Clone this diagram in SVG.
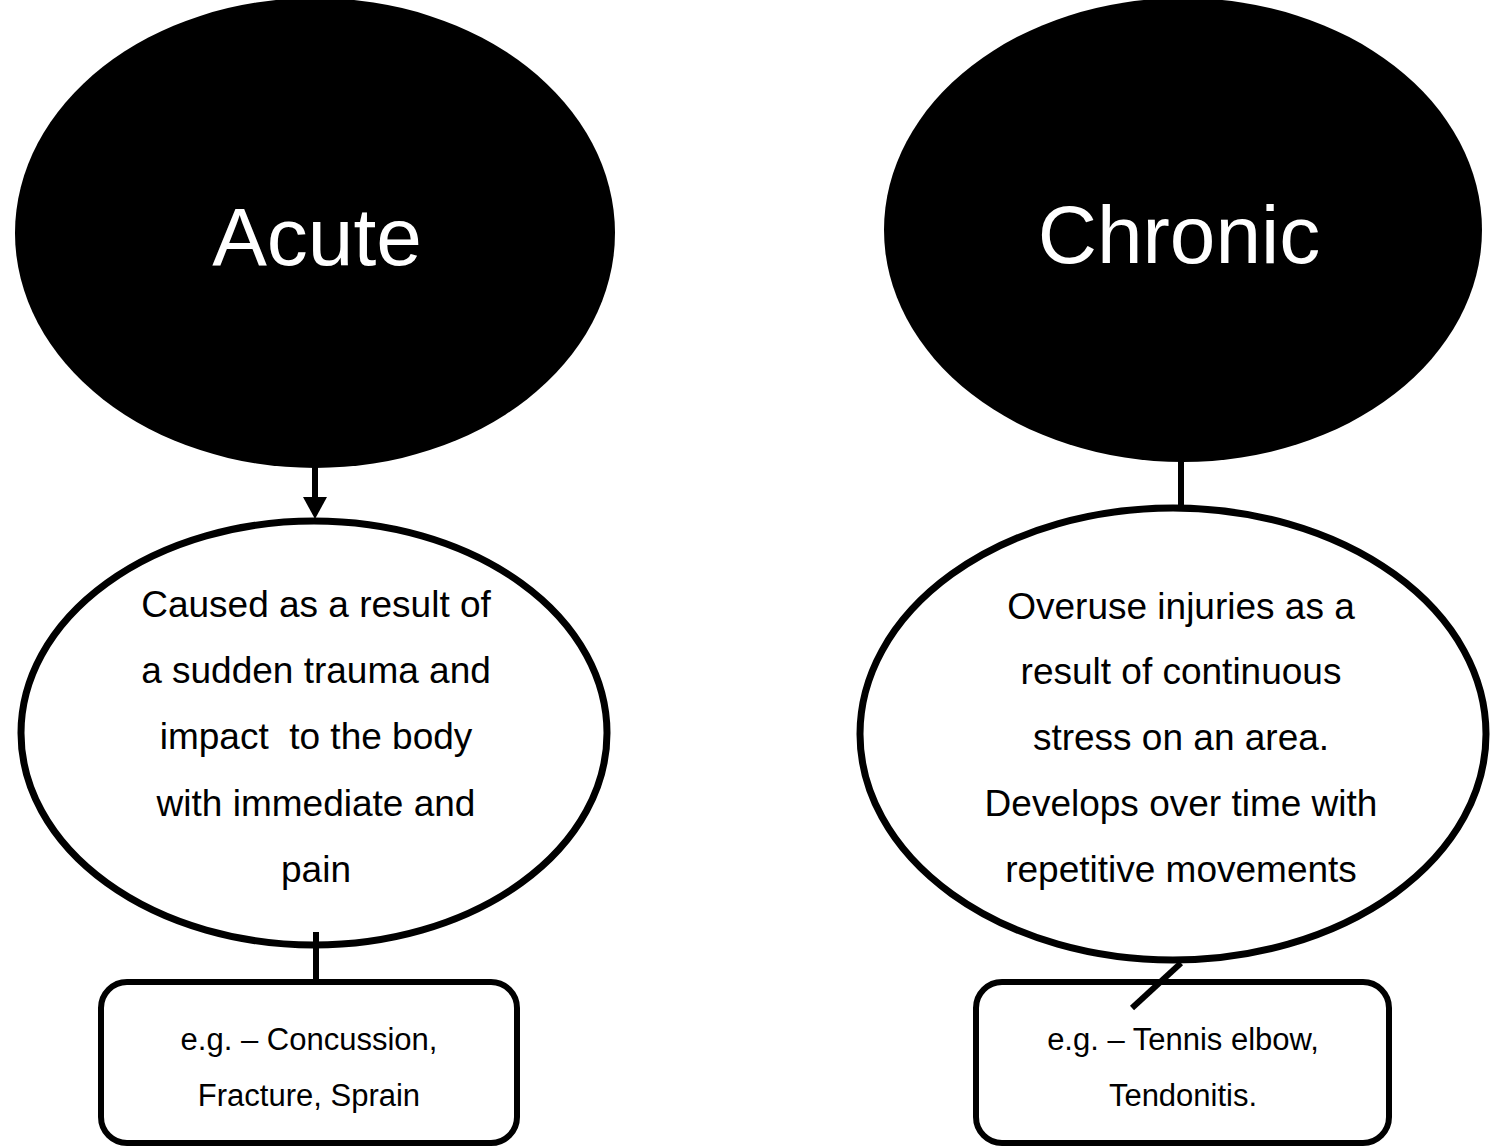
<svg xmlns="http://www.w3.org/2000/svg" width="1491" height="1147" viewBox="0 0 1491 1147">
<style>
.head{fill:#000}
.headtxt{fill:#fff;font-family:"Liberation Sans",Arial,sans-serif;font-size:82px;text-anchor:middle}
.bubble{fill:#fff;stroke:#000;stroke-width:7}
.box{fill:#fff;stroke:#000;stroke-width:6}
.txt{fill:#000;font-family:"Liberation Sans",Arial,sans-serif;font-size:37px;text-anchor:middle}
.small{fill:#000;font-family:"Liberation Sans",Arial,sans-serif;font-size:31px;text-anchor:middle}
.conn{stroke:#000;stroke-width:6;fill:none}
</style>
<rect width="1491" height="1147" fill="#fff"/>
<g id="acute">
<ellipse class="head" cx="315" cy="233" rx="300" ry="235"/>
<text class="headtxt" x="317" y="265">Acute</text>
</g>
<g id="chronic">
<ellipse class="head" cx="1183" cy="230" rx="299" ry="232"/>
<text class="headtxt" x="1179" y="263">Chronic</text>
</g>
<g id="acute-desc">
<ellipse class="bubble" cx="314" cy="733" rx="293" ry="212"/>
<text class="txt" x="316" y="617">Caused as a result of</text>
<text class="txt" x="316" y="683">a sudden trauma and</text>
<text class="txt" x="316" y="749" xml:space="preserve">impact  to the body</text>
<text class="txt" x="316" y="816">with immediate and</text>
<text class="txt" x="316" y="882">pain</text>
</g>
<g id="chronic-desc">
<ellipse class="bubble" cx="1173" cy="734" rx="313" ry="226"/>
<text class="txt" x="1181" y="619">Overuse injuries as a</text>
<text class="txt" x="1181" y="684">result of continuous</text>
<text class="txt" x="1181" y="750">stress on an area.</text>
<text class="txt" x="1181" y="816">Develops over time with</text>
<text class="txt" x="1181" y="882">repetitive movements</text>
</g>
<g id="acute-eg">
<rect class="box" x="101" y="982" width="416" height="161" rx="26"/>
<text class="small" x="309" y="1050">e.g. – Concussion,</text>
<text class="small" x="309" y="1106">Fracture, Sprain</text>
</g>
<g id="chronic-eg">
<rect class="box" x="976" y="982" width="413" height="161" rx="26"/>
<text class="small" x="1183" y="1050">e.g. – Tennis elbow,</text>
<text class="small" x="1183" y="1106">Tendonitis.</text>
</g>
<g id="connectors">
<line class="conn" x1="315" y1="466" x2="315" y2="500"/>
<polygon points="303,497 327,497 315,519" fill="#000"/>
<line class="conn" x1="316" y1="932" x2="316" y2="982"/>
<line class="conn" x1="1181" y1="461" x2="1181" y2="506"/>
<line class="conn" x1="1181" y1="963" x2="1132" y2="1008"/>
</g>
</svg>
